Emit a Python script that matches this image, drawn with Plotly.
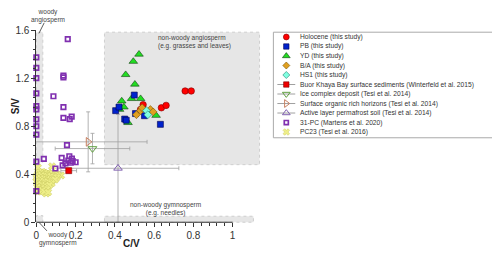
import plotly.graph_objects as go

# ---------------- data ----------------
HOL_CV = [0.758, 0.789, 0.637, 0.661, 0.544, 0.531]
HOL_SV = [1.094, 1.094, 0.954, 0.974, 0.98, 0.94]

PB_CV = [0.499, 0.404, 0.421, 0.45, 0.458, 0.505, 0.551, 0.632]
PB_SV = [1.06, 0.93, 0.96, 0.86, 0.85, 0.906, 0.888, 0.816]

YD_CV = [0.523, 0.494, 0.455, 0.502, 0.435, 0.485, 0.531, 0.446, 0.424, 0.610, 0.467]
YD_SV = [1.40, 1.34, 1.23, 1.15, 1.01, 1.03, 1.03, 0.96, 0.94, 0.89, 0.83]

BA_CV = [0.531, 0.51, 0.581, 0.595, 0.539]
BA_SV = [0.93, 0.896, 0.94, 0.92, 0.954]

HS1_CV = [0.561, 0.568]
HS1_SV = [0.93, 0.896]

BKB_CV, BKB_SV, BKB_ECV, BKB_ESV = [0.165], [0.43], [0.04], [0.02]
ICD_CV, ICD_SV, ICD_ECV, ICD_ESV = [0.286], [0.614], [0.19], [0.127]
SOH_CV, SOH_SV, SOH_ECV, SOH_ESV = [0.264], [0.67], [0.30], [0.25]
ALP_CV, ALP_SV, ALP_ECV, ALP_ESV = [0.416], [0.45], [0.31], [0.45]

PC31_CV = [0.16, 0.0, 0.0, 0.0, 0.138, 0.138, 0.0, 0.087, 0.0, 0.0, 0.138, 0.0, 0.138,
           0.17, 0.18, 0.0, 0.0, 0.156, 0.0, 0.038, 0.129, 0.168, 0.181, 0.163, 0.185,
           0.2, 0.148, 0.134, 0.175, 0.097, 0.0]
PC31_SV = [1.526, 1.374, 1.286, 1.202, 1.222, 1.208, 1.074, 1.05, 0.968, 0.94, 0.96, 0.858,
           0.87, 0.86, 0.88, 0.8, 0.73, 0.642, 0.506, 0.528, 0.536, 0.55, 0.53, 0.514, 0.51,
           0.5, 0.49, 0.474, 0.496, 0.448, 0.26]

PC23_CV = [0.008, 0.08, 0.126, 0.05, 0.008,
           0.01, 0.02, 0.03, 0.04, 0.05, 0.06, 0.07, 0.085, 0.1, 0.11,
           0.005, 0.015, 0.025, 0.035, 0.045, 0.055, 0.065, 0.075, 0.09, 0.105,
           0.0, 0.012, 0.022, 0.032, 0.042, 0.052, 0.062, 0.072, 0.082, 0.095,
           0.003, 0.018, 0.028, 0.038, 0.048, 0.058, 0.068, 0.078,
           0.006, 0.016, 0.026, 0.036, 0.046, 0.056, 0.066,
           0.004, 0.014, 0.024, 0.034, 0.044, 0.054,
           0.01, 0.02, 0.03, 0.04, 0.06]
PC23_SV = [0.456, 0.466, 0.39, 0.24, 0.256,
           0.41, 0.415, 0.42, 0.41, 0.405, 0.41, 0.40, 0.405, 0.40, 0.395,
           0.39, 0.385, 0.395, 0.38, 0.39, 0.385, 0.38, 0.385, 0.38, 0.375,
           0.37, 0.36, 0.37, 0.355, 0.365, 0.36, 0.355, 0.36, 0.35, 0.355,
           0.345, 0.34, 0.335, 0.345, 0.335, 0.34, 0.33, 0.325,
           0.32, 0.31, 0.315, 0.305, 0.31, 0.30, 0.31,
           0.295, 0.285, 0.29, 0.28, 0.285, 0.275,
           0.27, 0.26, 0.265, 0.255, 0.25]

X_TICKS = [0, 0.2, 0.4, 0.6, 0.8, 1]
X_TICKTEXT = ["0", "0.2", "0.4", "0.6", "0.8", "1"]
Y_TICKS = [0, 0.4, 0.8, 1.2, 1.6]
Y_TICKTEXT = ["0", "0.4", "0.8", "1.2", "1.6"]

LEG_LABELS = ["Holocene (this study)", "PB (this study)", "YD (this study)", "B/A (this study)",
              "HS1 (this study)", "Buor Khaya Bay surface sediments (Winterfeld et al. 2015)",
              "Ice complex deposit (Tesi et al. 2014)", "Surface organic rich horizons (Tesi et al. 2014)",
              "Active layer permafrost soil (Tesi et al. 2014)", "31-PC (Martens et al. 2020)",
              "PC23 (Tesi et al. 2016)"]

# ---------------- geometry ----------------
# the page body has an 8px margin, so the figure is 8px smaller and we work in page pixels
REF_W, REF_H, OFF = 500, 257, 8
W, H = REF_W - OFF, REF_H - OFF

def PX(px):
    return (px - OFF) / W

def PY(py):
    return (REF_H - py) / H

X0PX, XSC = 33.5, 197.5     # page px of C/V=0, px per unit
Y0PX, YSC = 226.0, 125.0    # page px of S/V=0, px per unit
X_RANGE = [0, 1.15]
Y_RANGE = [0, 1.6]
X_DOM = [PX(X0PX + X_RANGE[0] * XSC), PX(X0PX + X_RANGE[1] * XSC)]
Y_DOM = [PY(Y0PX - Y_RANGE[0] * YSC), PY(Y0PX - Y_RANGE[1] * YSC)]

def xp(v):
    return X_DOM[0] + (v - X_RANGE[0]) / (X_RANGE[1] - X_RANGE[0]) * (X_DOM[1] - X_DOM[0])

def yp(v):
    return Y_DOM[0] + (v - Y_RANGE[0]) / (Y_RANGE[1] - Y_RANGE[0]) * (Y_DOM[1] - Y_DOM[0])

FONT = "Liberation Sans, Arial, sans-serif"
ERRC = "#a0a0a0"

S = {
    "hol": dict(symbol="circle", size=6.5, color="#ff0000", line=dict(color="#800000", width=0.6)),
    "pb": dict(symbol="square", size=6, color="#0022cc", line=dict(color="#000050", width=0.6)),
    "yd": dict(symbol="triangle-up", size=7.5, color="#22dd22", line=dict(color="#104010", width=0.6)),
    "ba": dict(symbol="diamond", size=6, color="#e0a020", line=dict(color="#7a5a10", width=0.6)),
    "hs1": dict(symbol="diamond", size=6, color="#80ffe0", line=dict(color="#208070", width=0.6)),
    "bkb": dict(symbol="square", size=6, color="#ee0000", line=dict(color="#800000", width=0.6)),
    "icd": dict(symbol="triangle-down-open", size=7.5, color="#60a040", line=dict(color="#60a040", width=1)),
    "soh": dict(symbol="triangle-right-open", size=7.5, color="#c88060", line=dict(color="#c88060", width=1)),
    "alp": dict(symbol="triangle-up-open", size=7.5, color="#8060b0", line=dict(color="#8060b0", width=1)),
    "pc31": dict(symbol="square-open", size=4.5, color="#8030b0", line=dict(color="#8030b0", width=1.7)),
    "pc23": dict(symbol="x", size=6.5, color="#eeee88", line=dict(color="#c8c860", width=0.5)),
}

fig = go.Figure()

def add(cv, sv, key, ex=None, ey=None, ecolor=ERRC, ewidth=2):
    kw = {}
    if ex is not None:
        kw["error_x"] = dict(type="data", array=ex, color=ecolor, thickness=0.8, width=ewidth)
    if ey is not None:
        kw["error_y"] = dict(type="data", array=ey, color=ecolor, thickness=0.8, width=ewidth)
    fig.add_trace(go.Scatter(x=cv, y=sv, mode="markers", marker=S[key], cliponaxis=False,
                             showlegend=False, hoverinfo="skip", **kw))

add(PC23_CV, PC23_SV, "pc23")
add(ALP_CV, ALP_SV, "alp", ALP_ECV, ALP_ESV)
add(SOH_CV, SOH_SV, "soh", SOH_ECV, SOH_ESV)
add(ICD_CV, ICD_SV, "icd", ICD_ECV, ICD_ESV)
add(PC31_CV, PC31_SV, "pc31")
add(BKB_CV, BKB_SV, "bkb", BKB_ECV, BKB_ESV)
add(YD_CV, YD_SV, "yd")
add(PB_CV, PB_SV, "pb")
add(HOL_CV, HOL_SV, "hol")
add(BA_CV, BA_SV, "ba", [0.018] * len(BA_CV), [0.025] * len(BA_SV), "#b8860b", 0)
add(HS1_CV, HS1_SV, "hs1")

# ---------------- source regions (grey boxes) ----------------
REGIONS = [
    (0.347, 1.137, 0.48, 1.584),   # non-woody angiosperm
    (0.347, 1.106, 0.0, 0.05),     # non-woody gymnosperm
    (0.0, 0.033, 0.5, 1.584),      # woody angiosperm
    (0.0, 0.033, 0.0, 0.055),      # woody gymnosperm
]
shapes = []
for x0, x1, y0, y1 in REGIONS:
    shapes.append(dict(type="rect", xref="paper", yref="paper", x0=xp(x0), x1=xp(x1),
                       y0=yp(y0), y1=yp(y1), fillcolor="#e6e6e6",
                       line=dict(color="#cfcfcf", width=1, dash="dot"), layer="below"))
# x axis line (ends at 1)
shapes.append(dict(type="line", xref="paper", yref="paper", x0=xp(0), x1=xp(1), y0=yp(0), y1=yp(0),
                   line=dict(color="#333333", width=1)))
# leader lines for the woody labels
for (hx, hy, tx, ty) in [(0.013, 1.574, 0.04, 1.662), (0.013, 0.0, 0.054, -0.072)]:
    shapes.append(dict(type="line", xref="paper", yref="paper", x0=xp(hx), y0=yp(hy), x1=xp(tx), y1=yp(ty),
                       line=dict(color="#333333", width=0.8)))

ann = []
def txt(x, y, t, size=6.5, xanchor="center", align="center", color="#444444", angle=0):
    ann.append(dict(x=xp(x), y=yp(y), xref="paper", yref="paper", text=t, showarrow=False,
                    xanchor=xanchor, yanchor="middle", align=align, textangle=angle,
                    font=dict(size=size, color=color, family=FONT)))

txt(0.06, 1.72, "woody<br>angiosperm")
txt(0.61, 1.50, "non-woody angiosperm<br>(e.g. grasses and leaves)", xanchor="left", align="left")
txt(0.66, 0.11, "non-woody gymnosperm<br>(e.g. needles)")
txt(0.112, -0.14, "woody<br>gymnosperm")
txt(0.485, -0.176, "<b>C/V</b>", size=10, color="#222222")
txt(-0.102, 0.97, "<b>S/V</b>", size=10, color="#222222", angle=-90)

# ---------------- legend (hidden helper axis in page-pixel units) ----------------
LEG_KEYS = ["hol", "pb", "yd", "ba", "hs1", "bkb", "icd", "soh", "alp", "pc31", "pc23"]
LEG_LINE = [False, False, False, False, False, True, True, True, True, False, False]
LEG_BOX = [272, 497, 28, 138]
for i, (lab, key, ln) in enumerate(zip(LEG_LABELS, LEG_KEYS, LEG_LINE)):
    yy = 33 + 9.9 * i
    if ln:
        fig.add_trace(go.Scatter(x=[276, 294], y=[yy, yy], mode="lines", line=dict(color=ERRC, width=1),
                                 xaxis="x2", yaxis="y2", showlegend=False, hoverinfo="skip"))
    m = dict(S[key])
    m["size"] = m["size"] * 0.9
    kw = {}
    if key == "ba":
        kw = dict(error_x=dict(type="data", array=[3], color="#b8860b", thickness=0.8, width=0),
                  error_y=dict(type="data", array=[3], color="#b8860b", thickness=0.8, width=0))
    fig.add_trace(go.Scatter(x=[285], y=[yy], mode="markers", marker=m, xaxis="x2", yaxis="y2",
                             showlegend=False, hoverinfo="skip", cliponaxis=False, **kw))
    ann.append(dict(x=297, y=yy, xref="x2", yref="y2", text=lab, showarrow=False, xanchor="left",
                    yanchor="middle", font=dict(size=6.7, color="#333333", family=FONT)))
shapes.append(dict(type="rect", xref="x2 domain", yref="y2 domain", x0=0, x1=1, y0=0, y1=1,
                   line=dict(color="#aaaaaa", width=1), fillcolor="rgba(0,0,0,0)"))

fig.update_layout(
    width=W, height=H, margin=dict(l=0, r=0, t=0, b=0),
    paper_bgcolor="white", plot_bgcolor="rgba(0,0,0,0)",
    font=dict(family=FONT, size=10, color="#333333"),
    showlegend=False,
    xaxis=dict(domain=X_DOM, range=X_RANGE, showgrid=False, zeroline=False, showline=False,
               tickmode="array", tickvals=X_TICKS, ticktext=X_TICKTEXT, ticks="outside",
               ticklen=4, tickwidth=1, tickcolor="#333333", tickfont=dict(size=10, color="#333333"),
               minor=dict(tickmode="array", tickvals=[0.04, 0.08, 0.12, 0.16, 0.24, 0.28, 0.32, 0.36,
                                                      0.44, 0.48, 0.52, 0.56, 0.64, 0.68, 0.72, 0.76,
                                                      0.84, 0.88, 0.92, 0.96],
                          ticks="outside", ticklen=2.5, tickcolor="#333333", showgrid=False)),
    yaxis=dict(domain=Y_DOM, range=Y_RANGE, showgrid=False, zeroline=False, showline=True,
               linecolor="#333333", linewidth=1,
               tickmode="array", tickvals=Y_TICKS, ticktext=Y_TICKTEXT, ticks="outside",
               ticklen=4, tickwidth=1, tickcolor="#333333", tickfont=dict(size=10, color="#333333"),
               minor=dict(tickmode="array", tickvals=[0.08, 0.16, 0.24, 0.32, 0.48, 0.56, 0.64, 0.72,
                                                      0.88, 0.96, 1.04, 1.12, 1.28, 1.36, 1.44, 1.52],
                          ticks="outside", ticklen=2.5, tickcolor="#333333", showgrid=False)),
    xaxis2=dict(domain=[PX(LEG_BOX[0]), PX(LEG_BOX[1])], range=[LEG_BOX[0], LEG_BOX[1]], visible=False,
                anchor="y2"),
    yaxis2=dict(domain=[PY(LEG_BOX[3]), PY(LEG_BOX[2])], range=[LEG_BOX[3], LEG_BOX[2]],
                visible=False, anchor="x2"),
    shapes=shapes, annotations=ann,
)

fig.write_html("out.html")
